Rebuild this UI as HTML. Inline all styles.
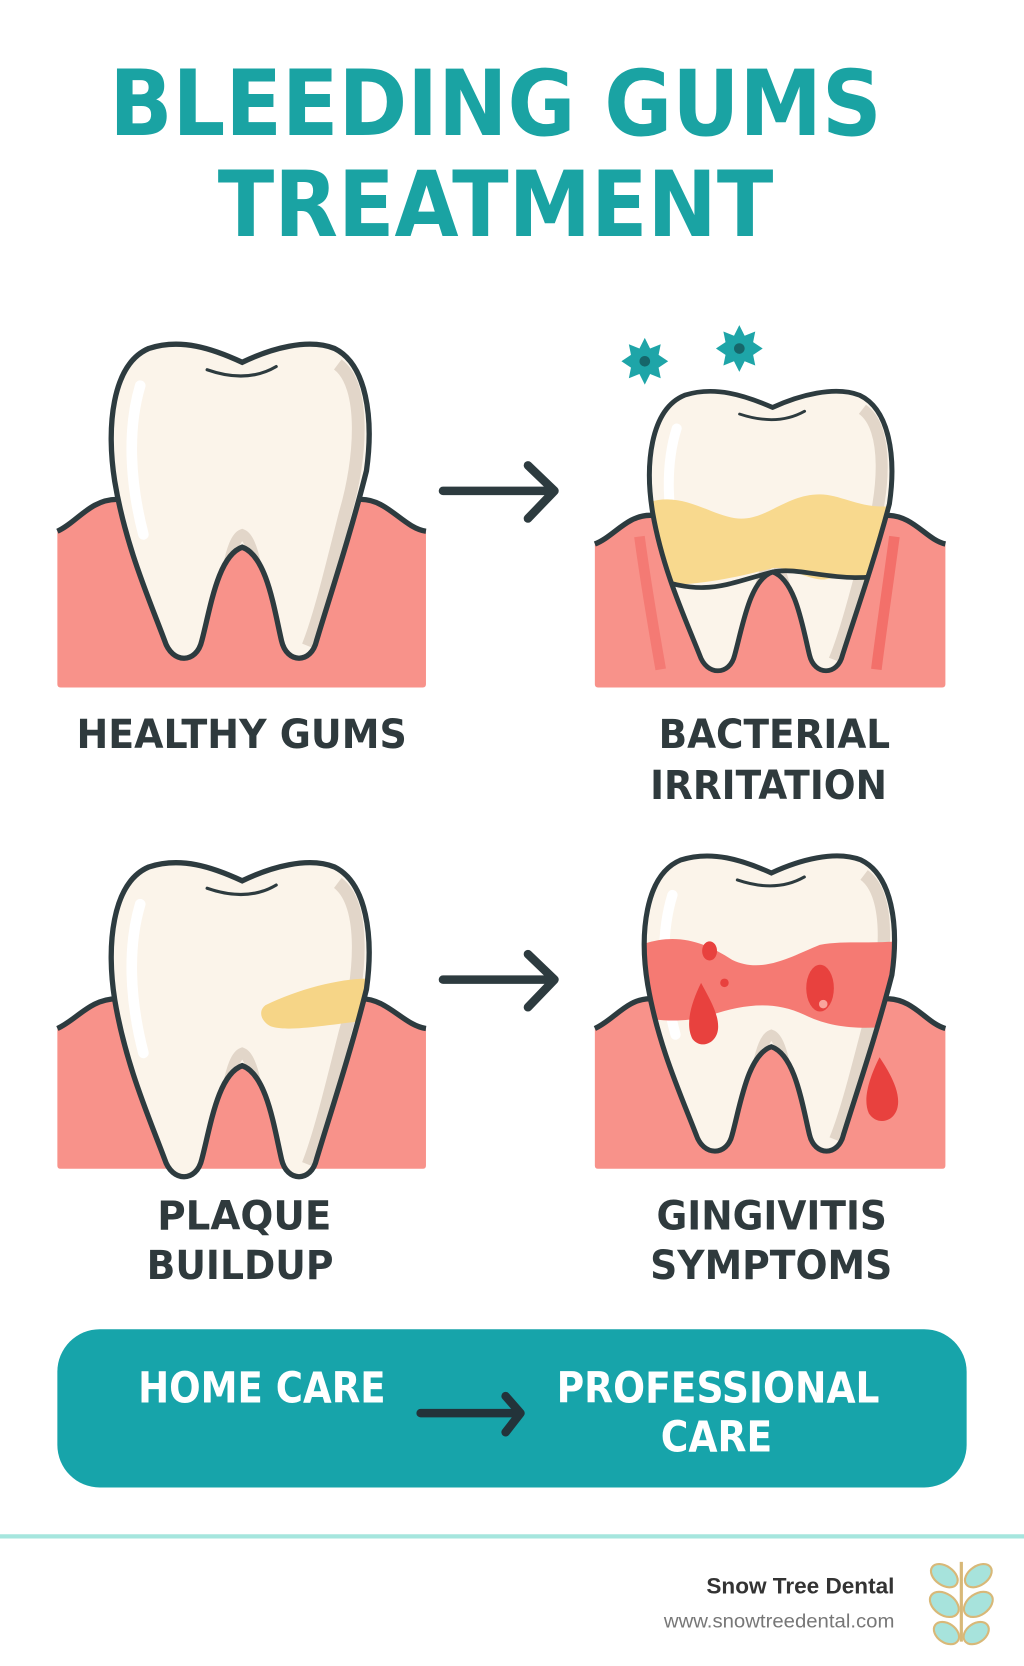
<!DOCTYPE html>
<html><head><meta charset="utf-8"><style>
html,body{margin:0;padding:0;background:#fff;}
svg{display:block;}
text{font-family:"DejaVu Sans","Liberation Sans",sans-serif;font-weight:bold;}
</style></head><body>
<svg width="1024" height="1666" viewBox="0 0 964 1568" preserveAspectRatio="none" xmlns="http://www.w3.org/2000/svg">
<defs>
<path id="tooth" d="M228 338 C200 325,170 315,140 325 C105 340,100 400,108 450 C118 510,140 560,155 600 C162 622,185 622,190 600 C198 570,205 520,228 512 C251 520,258 570,265 600 C270 622,293 622,298 600 C310 560,330 500,345 440 C352 390,345 340,315 325 C290 315,255 325,228 338 Z"/>
<clipPath id="tc"><use href="#tooth"/></clipPath>
<g id="toothfull">
<use href="#tooth" fill="#fbf4ea"/>
<path d="M318 340 C345 360,340 430,325 480 C310 540,300 580,290 605" stroke="#e2d6c9" stroke-width="12" fill="none" clip-path="url(#tc)"/>
<path d="M205 600 C210 560,215 505,228 500 C241 505,246 560,252 600" stroke="#e2d6c9" stroke-width="10" fill="none" clip-path="url(#tc)"/>
<path d="M132 360 C120 400,122 450,135 500" stroke="#fff" stroke-width="10" fill="none" stroke-linecap="round"/>
</g>
<g id="outline">
<use href="#tooth" fill="none" stroke="#2d3b3f" stroke-width="5"/>
<path d="M195 345 C215 352,238 355,260 342" stroke="#2d3b3f" stroke-width="3" fill="none" stroke-linecap="round"/>
</g>
<polygon id="germ" points="0,-22 5,-12 15,-16 13,-6 22,0 13,6 15,16 5,12 0,22 -5,12 -15,16 -13,6 -22,0 -13,-6 -15,-16 -5,-12" fill="#1ea5a8"/>
</defs>

<text x="103" y="127" textLength="727" lengthAdjust="spacingAndGlyphs" font-size="86" fill="#1aa3a3">BLEEDING GUMS</text>
<text x="205" y="222" textLength="523" lengthAdjust="spacingAndGlyphs" font-size="86" fill="#1aa3a3">TREATMENT</text>

<!-- Row 1 left -->
<path d="M54 500 C72 492,85 470,110 470 L340 470 C365 470,380 497,401 500 L401 644 Q401 647 398 647 L57 647 Q54 647 54 644 Z" fill="#f8928a"/>
<path d="M54 500 C72 492,85 470,110 470 L340 470 C365 470,380 497,401 500" stroke="#2d3b3f" stroke-width="5" fill="none"/>
<g transform="translate(100,318) translate(-100,-315)"><use href="#toothfull"/><use href="#outline"/></g>

<!-- Row 1 right -->
<path d="M560 512 C578 505,590 485,612 485 L835 485 C860 485,872 508,890 512 L890 644 Q890 647 887 647 L563 647 Q560 647 560 644 Z" fill="#f8928a"/>
<path d="M560 512 C578 505,590 485,612 485 L835 485 C860 485,872 508,890 512" stroke="#2d3b3f" stroke-width="5" fill="none"/>
<path d="M602 505 C608 550,615 590,622 630" stroke="#ee4e4a" stroke-width="10" fill="none" opacity="0.35"/>
<path d="M842 505 C836 550,830 590,825 630" stroke="#ee4e4a" stroke-width="10" fill="none" opacity="0.5"/>
<g transform="translate(607,363) scale(0.94,0.89) translate(-100,-315)">
<use href="#toothfull"/>
<path d="M90 445 C130 420,160 450,190 455 C220 460,240 430,275 430 C300 430,320 450,360 440 L360 520 C320 525,300 515,280 520 C260 520,245 505,228 508 C200 515,150 530,90 525 Z" fill="#f8d98e" clip-path="url(#tc)"/>
<path d="M100 515 C160 540,180 525,228 512 C260 505,300 530,360 510" stroke="#2d3b3f" stroke-width="5" fill="none" clip-path="url(#tc)"/>
<use href="#outline"/></g>
<use href="#germ" transform="translate(607,340)"/><circle cx="607" cy="340" r="5" fill="#16666a"/>
<use href="#germ" transform="translate(696,328)"/><circle cx="696" cy="328" r="5" fill="#16666a"/>

<!-- arrows row -->
<path d="M417 462 L520 462 M497 438 L522 462 L497 488" stroke="#2d3b3f" stroke-width="8" fill="none" stroke-linecap="round" stroke-linejoin="round"/>
<path d="M417 922 L520 922 M497 898 L522 922 L497 948" stroke="#2d3b3f" stroke-width="8" fill="none" stroke-linecap="round" stroke-linejoin="round"/>

<text x="72" y="704" textLength="311" lengthAdjust="spacingAndGlyphs" font-size="38" fill="#2f3a3d">HEALTHY GUMS</text>
<text x="620" y="704" textLength="218" lengthAdjust="spacingAndGlyphs" font-size="38" fill="#2f3a3d">BACTERIAL</text>
<text x="612" y="752" textLength="223" lengthAdjust="spacingAndGlyphs" font-size="38" fill="#2f3a3d">IRRITATION</text>

<!-- Row 2 left -->
<path d="M54 968 C72 960,85 940,110 940 L340 940 C365 940,380 965,401 968 L401 1097 Q401 1100 398 1100 L57 1100 Q54 1100 54 1097 Z" fill="#f8928a"/>
<path d="M54 968 C72 960,85 940,110 940 L340 940 C365 940,380 965,401 968" stroke="#2d3b3f" stroke-width="5" fill="none"/>
<g transform="translate(100,806) translate(-100,-315)"><use href="#toothfull"/>
<path d="M250 455 C280 440,320 430,345 430 L340 470 C300 475,270 480,255 475 C245 470,243 460,250 455Z" fill="#f6d587" clip-path="url(#tc)"/>
<use href="#outline"/></g>

<!-- Row 2 right -->
<path d="M560 968 C578 960,590 940,612 940 L835 940 C860 940,872 963,890 968 L890 1097 Q890 1100 887 1100 L563 1100 Q560 1100 560 1097 Z" fill="#f8928a"/>
<path d="M560 968 C578 960,590 940,612 940 L835 940 C860 940,872 963,890 968" stroke="#2d3b3f" stroke-width="5" fill="none"/>
<g transform="translate(602,800) scale(0.97,0.94) translate(-100,-315)">
<use href="#toothfull"/>
<path d="M90 415 C130 395,160 405,190 425 C220 440,250 420,275 410 C300 405,330 410,360 405 L360 490 C320 495,290 495,260 480 C230 465,200 470,170 480 C140 490,110 485,90 480 Z" fill="#f57a73" clip-path="url(#tc)"/>
<use href="#outline"/></g>
<path d="M660 925 C650 945,645 965,652 978 C660 988,675 982,676 968 C677 955,668 940,660 925Z" fill="#e8413e"/>
<ellipse cx="668" cy="895" rx="7" ry="9" fill="#e8413e"/>
<circle cx="682" cy="925" r="4" fill="#e8413e"/>
<ellipse cx="772" cy="930" rx="13" ry="22" fill="#e8413e"/>
<circle cx="775" cy="945" r="4" fill="#f9a49c"/>
<path d="M828 995 C818 1015,812 1035,818 1048 C826 1060,842 1056,845 1042 C848 1028,838 1010,828 995Z" fill="#e8413e"/>

<text x="148" y="1157" textLength="164" lengthAdjust="spacingAndGlyphs" font-size="38" fill="#2f3a3d">PLAQUE</text>
<text x="138" y="1204" textLength="176" lengthAdjust="spacingAndGlyphs" font-size="38" fill="#2f3a3d">BUILDUP</text>
<text x="618" y="1157" textLength="217" lengthAdjust="spacingAndGlyphs" font-size="38" fill="#2f3a3d">GINGIVITIS</text>
<text x="612" y="1204" textLength="228" lengthAdjust="spacingAndGlyphs" font-size="38" fill="#2f3a3d">SYMPTOMS</text>

<!-- Bottom box -->
<rect x="54" y="1251" width="856" height="149" rx="40" fill="#17a4aa"/>
<text x="130" y="1320" textLength="233" lengthAdjust="spacingAndGlyphs" font-size="40" fill="#fff">HOME CARE</text>
<text x="524" y="1320" textLength="304" lengthAdjust="spacingAndGlyphs" font-size="40" fill="#fff">PROFESSIONAL</text>
<text x="622" y="1366" textLength="105" lengthAdjust="spacingAndGlyphs" font-size="40" fill="#fff">CARE</text>
<path d="M396 1330 L488 1330 M476 1314 L490 1330 L476 1348" stroke="#23333a" stroke-width="8" fill="none" stroke-linecap="round" stroke-linejoin="round"/>

<rect x="0" y="1444" width="964" height="4" fill="#a6e6de"/>
<text x="665" y="1500" textLength="177" lengthAdjust="spacingAndGlyphs" font-size="21" fill="#333" style="font-family:'Liberation Sans',sans-serif">Snow Tree Dental</text>
<text x="625" y="1532" textLength="217" lengthAdjust="spacingAndGlyphs" font-size="18" fill="#777" style="font-family:'Liberation Sans',sans-serif;font-weight:normal">www.snowtreedental.com</text>
<g transform="translate(905,1505)">
<path d="M0 -35 L0 40" stroke="#d8b878" stroke-width="3"/>
<ellipse cx="-16" cy="-22" rx="14" ry="9" transform="rotate(35 -16 -22)" fill="#a7e3dc" stroke="#d8b878" stroke-width="2"/>
<ellipse cx="16" cy="-22" rx="14" ry="9" transform="rotate(-35 16 -22)" fill="#a7e3dc" stroke="#d8b878" stroke-width="2"/>
<ellipse cx="-16" cy="5" rx="15" ry="10" transform="rotate(35 -16 5)" fill="#a7e3dc" stroke="#d8b878" stroke-width="2"/>
<ellipse cx="16" cy="5" rx="15" ry="10" transform="rotate(-35 16 5)" fill="#a7e3dc" stroke="#d8b878" stroke-width="2"/>
<ellipse cx="-14" cy="32" rx="13" ry="9" transform="rotate(35 -14 32)" fill="#a7e3dc" stroke="#d8b878" stroke-width="2"/>
<ellipse cx="14" cy="32" rx="13" ry="9" transform="rotate(-35 14 32)" fill="#a7e3dc" stroke="#d8b878" stroke-width="2"/>
</g>
</svg>
</body></html>
